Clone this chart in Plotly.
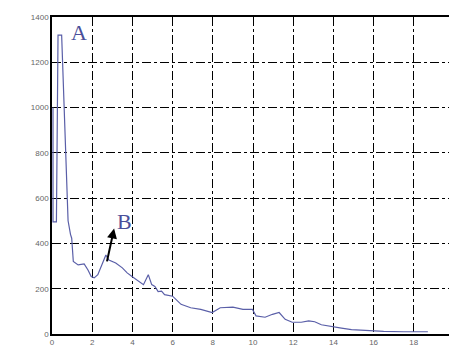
import plotly.graph_objects as go

# spectrum trace
freq = [0.05, 0.05, 0.22, 0.30, 0.48, 0.56, 0.65, 0.80, 0.92, 0.98, 1.06, 1.3, 1.6, 1.79, 1.95,
        2.1, 2.28, 2.68, 2.83, 3.17, 3.5, 3.74, 3.98, 4.3, 4.55, 4.79, 4.96, 5.12, 5.28,
        5.45, 5.6, 6.0, 6.42, 6.9, 7.4, 7.97, 8.37, 9.0, 9.5, 9.97, 10.15, 10.6, 10.97,
        11.3, 11.6, 11.95, 12.4, 12.77, 13.07, 13.4, 13.9, 14.4, 14.9, 15.37, 15.9,
        16.5, 17.5, 18.4, 18.7]
amp = [1000, 495, 495, 1320, 1320, 1100, 860, 500, 440, 423, 320, 305, 310, 283, 254,
       248, 262, 349, 327, 314, 292, 270, 254, 232, 218, 262, 218, 210, 187,
       189, 174, 167, 131, 116, 109, 95, 116, 119, 109, 109, 80, 74, 87,
       95, 65, 52, 52, 58, 54, 41, 35, 26, 19, 16, 13,
       12, 10, 10, 10]

x_ticks = [0, 2, 4, 6, 8, 10, 12, 14, 16, 18, 20]
y_ticks = [0, 200, 400, 600, 800, 1000, 1200, 1400]

fig = go.Figure()
fig.add_trace(go.Scatter(x=freq, y=amp, mode="lines",
                         line=dict(color="#5a5fa8", width=1.2), showlegend=False))

axis_common = dict(showline=True, linecolor="black", linewidth=1.5, mirror=True,
                   showgrid=True, gridcolor="black", gridwidth=1.3, griddash="dashdot",
                   zeroline=False, ticks="", tickfont=dict(family="Liberation Sans", size=8, color="#666666"))

fig.update_xaxes(range=[0, 20], tickvals=x_ticks, ticktext=[str(v) for v in x_ticks], **axis_common)
fig.update_yaxes(range=[0, 1400], tickvals=y_ticks, ticktext=[str(v) for v in y_ticks], **axis_common)

fig.add_annotation(x=1.32, y=1330, text="A", showarrow=False,
                   font=dict(family="Liberation Serif", size=22, color="#4a4f9a"))
fig.add_annotation(x=3.6, y=495, text="B", showarrow=False,
                   font=dict(family="Liberation Serif", size=22, color="#4a4f9a"))
fig.add_annotation(x=3.09, y=466, ax=2.72, ay=314, xref="x", yref="y", axref="x", ayref="y",
                   text="", showarrow=True, arrowhead=2, arrowsize=1, arrowwidth=2, arrowcolor="black")

fig.update_layout(width=457, height=348, margin=dict(l=44, r=11, t=9, b=22, autoexpand=False),
                  plot_bgcolor="white", paper_bgcolor="white")
fig.write_html("out.html")
